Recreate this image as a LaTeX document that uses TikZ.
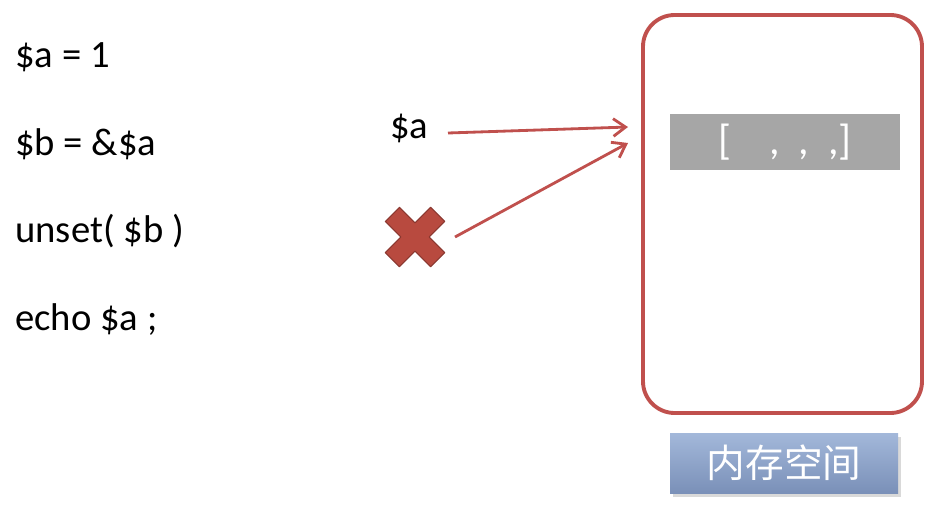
\documentclass[tikz,border=0pt]{standalone}
\usepackage{fontspec}
\setmainfont{Carlito}
\newfontfamily\cjk{Noto Sans CJK SC}
\usetikzlibrary{arrows.meta}
\definecolor{redc}{HTML}{C0504D}
\definecolor{crossc}{HTML}{B84A3F}
\definecolor{grayc}{HTML}{A6A6A6}
\definecolor{bluetop}{HTML}{A3B8DA}
\definecolor{bluebot}{HTML}{7A90B8}
\begin{document}
\begin{tikzpicture}[x=0.02cm,y=-0.02cm,
  code/.style={anchor=base west,font=\fontsize{22}{26}\selectfont,inner sep=0},
  ptr/.style={draw=redc,line width=1.6pt,-{Straight Barb[length=7pt,width=10pt]}}]
\useasboundingbox (0,0) rectangle (943,514);
\fill[white] (0,0) rectangle (943,514);
\node[code] (l1) at (15,67) {\$a = 1};
\node[code] (l2) at (15,155) {\$b = \&\$a};
\node[code] (l3) at (15,242) {unset( \$b )};
\node[code] (l4) at (15,330) {echo \$a ;};
\node[code] (va) at (390,138) {\$a};
\node[draw=redc,line width=2.2pt,rounded corners=18pt,minimum width=279*0.02cm,minimum height=398*0.02cm] (mem) at (782.5,214) {};
\node[fill=grayc,minimum width=230*0.02cm,minimum height=56*0.02cm,text=white,font=\fontsize{24}{28}\selectfont] (arr) at (785,142) {[\hspace{0.9em},\hspace{0.45em},\hspace{0.45em},]\hspace{3.4em}};
\node[minimum size=60*0.02cm,inner sep=0] (x) at (415,237) {};
\filldraw[fill=crossc,draw=crossc!75!black,line width=0.6pt,shift={(x.center)},rotate=45,line join=round]
  (10,10) -- (10,32) -- (-10,32) -- (-10,10) -- (-32,10) -- (-32,-10) -- (-10,-10) -- (-10,-32) -- (10,-32) -- (10,-10) -- (32,-10) -- (32,10) -- cycle;
\coordinate (t1) at (628,127);
\coordinate (t2) at (628,143);
\draw[ptr] (448,133) -- (t1);
\draw[ptr] (455,237) -- (t2);
\fill[gray!30] (673,437) rectangle (901,497);
\node[top color=bluetop,bottom color=bluebot,minimum width=228*0.02cm,minimum height=60*0.02cm,text=white,font=\cjk\fontsize{22}{26}\selectfont] (lab) at (784,463) {内存空间};
\end{tikzpicture}
\end{document}
